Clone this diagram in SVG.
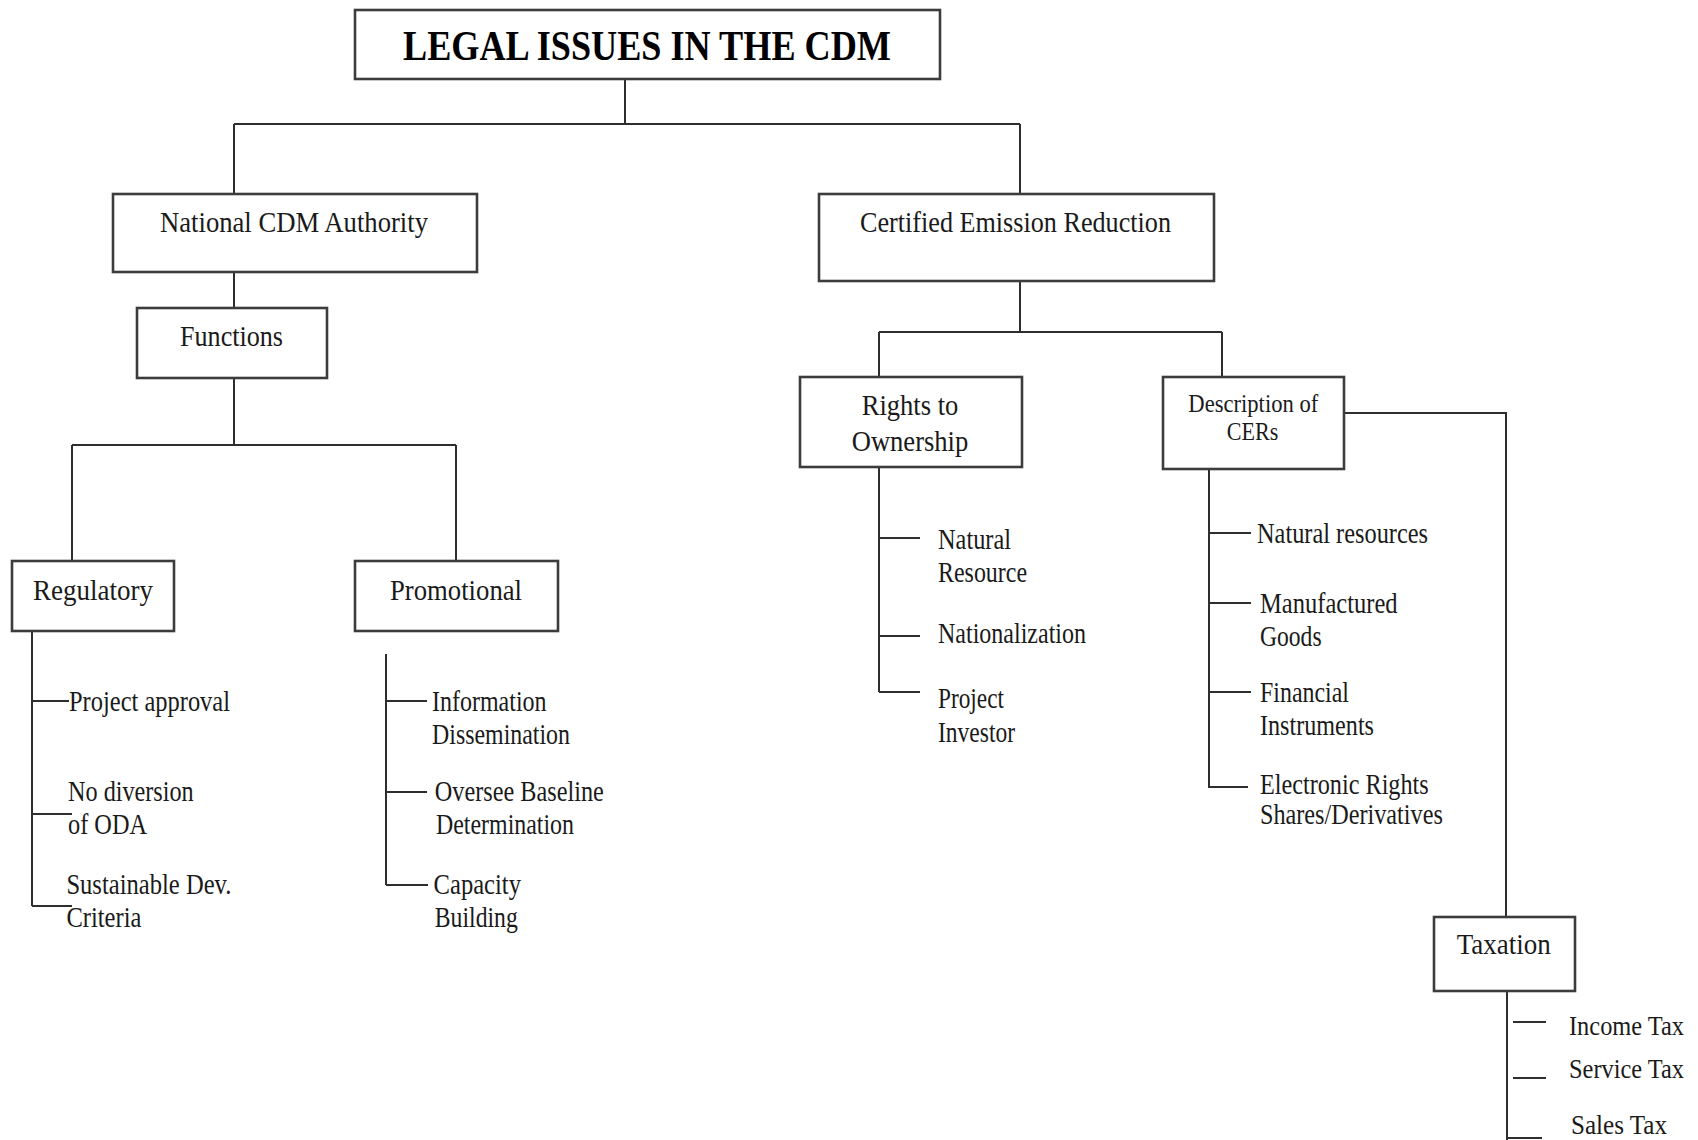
<svg xmlns="http://www.w3.org/2000/svg" width="1698" height="1140" viewBox="0 0 1698 1140">
<style>
  .box { fill: #ffffff; stroke: #3c3c3c; stroke-width: 2.6; }
  .ln { fill: none; stroke: #2e2e2e; stroke-width: 2; }
  text { font-family: "Liberation Serif", "Times New Roman", serif; fill: #1a1a1a; }
  .title { font-size: 43px; font-weight: bold; fill: #000; }
  .node { font-size: 30px; }
  .small { font-size: 25px; }
  .item { font-size: 29px; }
  .tax { font-size: 26.5px; }
</style>
<rect width="1698" height="1140" fill="#ffffff"/>

<g id="connectors">
  <path class="ln" d="M625 79 V124 M234 124 H1020 M234 124 V194 M1020 124 V194"/>
  <path class="ln" d="M234 272 V308"/>
  <path class="ln" d="M234 378 V445 M72 445 H456 M72 445 V561 M456 445 V561"/>
  <path class="ln" d="M32 631 V906 M32 701 H69 M32 814 H72 M32 906 H72"/>
  <path class="ln" d="M386 654 V885 M386 701 H427 M386 792 H427 M386 885 H428"/>
  <path class="ln" d="M1020 281 V332 M879 332 H1222 M879 332 V377 M1222 332 V377"/>
  <path class="ln" d="M879 467 V692 M879 538 H920 M879 636 H920 M879 692 H920"/>
  <path class="ln" d="M1209 469 V787 M1209 533 H1251 M1209 603 H1251 M1209 692 H1251 M1208 787 H1248"/>
  <path class="ln" d="M1344 413 H1506 V917"/>
  <path class="ln" d="M1507 991 V1140 M1513 1022 H1546 M1513 1078 H1546 M1507 1138 H1542"/>
</g>

<g id="title">
  <rect class="box" x="355" y="10" width="585" height="69"/>
  <text class="title" x="403" y="59.5" textLength="488" lengthAdjust="spacingAndGlyphs">LEGAL ISSUES IN THE CDM</text>
</g>

<g id="national">
  <rect class="box" x="113" y="194" width="364" height="78"/>
  <text class="node" x="160" y="231.7" textLength="268" lengthAdjust="spacingAndGlyphs">National CDM Authority</text>
</g>

<g id="cer">
  <rect class="box" x="819" y="194" width="395" height="87"/>
  <text class="node" x="860" y="231.7" textLength="311" lengthAdjust="spacingAndGlyphs">Certified Emission Reduction</text>
</g>

<g id="functions">
  <rect class="box" x="137" y="308" width="190" height="70"/>
  <text class="node" x="180" y="346" textLength="103" lengthAdjust="spacingAndGlyphs">Functions</text>
</g>

<g id="regulatory">
  <rect class="box" x="12" y="561" width="162" height="70"/>
  <text class="node" x="33" y="600" textLength="120" lengthAdjust="spacingAndGlyphs">Regulatory</text>
</g>

<g id="promotional">
  <rect class="box" x="355" y="561" width="203" height="70"/>
  <text class="node" x="390" y="600" textLength="132" lengthAdjust="spacingAndGlyphs">Promotional</text>
</g>

<g id="rights">
  <rect class="box" x="800" y="377" width="222" height="90"/>
  <text class="node" x="861.7" y="415" textLength="96.6" lengthAdjust="spacingAndGlyphs">Rights to</text>
  <text class="node" x="851.7" y="450.7" textLength="116.6" lengthAdjust="spacingAndGlyphs">Ownership</text>
</g>

<g id="description">
  <rect class="box" x="1163" y="377" width="181" height="92"/>
  <text class="small" x="1188.3" y="411.7" textLength="130" lengthAdjust="spacingAndGlyphs">Description of</text>
  <text class="small" x="1226.7" y="440" textLength="51.6" lengthAdjust="spacingAndGlyphs">CERs</text>
</g>

<g id="taxation">
  <rect class="box" x="1434" y="917" width="141" height="74"/>
  <text class="node" x="1456.7" y="954" textLength="94" lengthAdjust="spacingAndGlyphs">Taxation</text>
</g>

<g id="regulatory-items">
  <text class="item" x="69" y="710.7" textLength="161" lengthAdjust="spacingAndGlyphs">Project approval</text>
  <text class="item" x="68" y="801" textLength="125.7" lengthAdjust="spacingAndGlyphs">No diversion</text>
  <text class="item" x="68" y="834" textLength="79" lengthAdjust="spacingAndGlyphs">of ODA</text>
  <text class="item" x="66.4" y="894" textLength="165" lengthAdjust="spacingAndGlyphs">Sustainable Dev.</text>
  <text class="item" x="66.4" y="927" textLength="75" lengthAdjust="spacingAndGlyphs">Criteria</text>
</g>

<g id="promotional-items">
  <text class="item" x="432" y="710.7" textLength="114.6" lengthAdjust="spacingAndGlyphs">Information</text>
  <text class="item" x="432" y="744" textLength="138" lengthAdjust="spacingAndGlyphs">Dissemination</text>
  <text class="item" x="434.8" y="801" textLength="169" lengthAdjust="spacingAndGlyphs">Oversee Baseline</text>
  <text class="item" x="436" y="834" textLength="138" lengthAdjust="spacingAndGlyphs">Determination</text>
  <text class="item" x="433.6" y="894" textLength="87.4" lengthAdjust="spacingAndGlyphs">Capacity</text>
  <text class="item" x="434.8" y="927" textLength="83" lengthAdjust="spacingAndGlyphs">Building</text>
</g>

<g id="rights-items">
  <text class="item" x="938" y="549.3" textLength="73" lengthAdjust="spacingAndGlyphs">Natural</text>
  <text class="item" x="938" y="581.7" textLength="89" lengthAdjust="spacingAndGlyphs">Resource</text>
  <text class="item" x="938" y="642.7" textLength="148" lengthAdjust="spacingAndGlyphs">Nationalization</text>
  <text class="item" x="938" y="707.7" textLength="66" lengthAdjust="spacingAndGlyphs">Project</text>
  <text class="item" x="938" y="741.7" textLength="77" lengthAdjust="spacingAndGlyphs">Investor</text>
</g>

<g id="description-items">
  <text class="item" x="1257" y="542.7" textLength="171" lengthAdjust="spacingAndGlyphs">Natural resources</text>
  <text class="item" x="1260" y="613.3" textLength="137.6" lengthAdjust="spacingAndGlyphs">Manufactured</text>
  <text class="item" x="1260" y="646" textLength="61.6" lengthAdjust="spacingAndGlyphs">Goods</text>
  <text class="item" x="1260" y="701.7" textLength="89" lengthAdjust="spacingAndGlyphs">Financial</text>
  <text class="item" x="1260" y="735" textLength="114" lengthAdjust="spacingAndGlyphs">Instruments</text>
  <text class="item" x="1260" y="793.5" textLength="168.7" lengthAdjust="spacingAndGlyphs">Electronic Rights</text>
  <text class="item" x="1260" y="824" textLength="182.8" lengthAdjust="spacingAndGlyphs">Shares/Derivatives</text>
</g>

<g id="taxation-items">
  <text class="tax" x="1569" y="1035" textLength="115" lengthAdjust="spacingAndGlyphs">Income Tax</text>
  <text class="tax" x="1569" y="1078" textLength="115" lengthAdjust="spacingAndGlyphs">Service Tax</text>
  <text class="tax" x="1571" y="1134" textLength="96" lengthAdjust="spacingAndGlyphs">Sales Tax</text>
</g>
</svg>
